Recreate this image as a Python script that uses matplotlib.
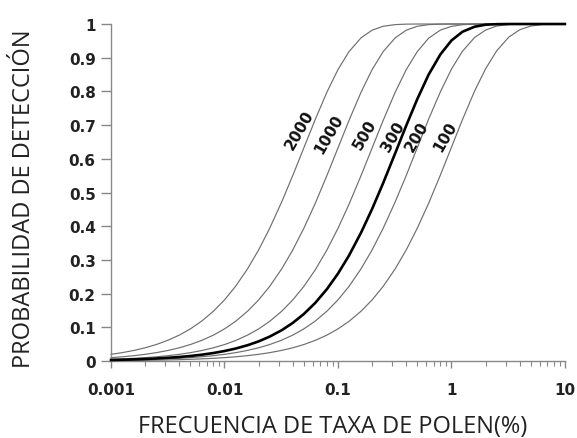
import matplotlib
matplotlib.use("Agg")
import matplotlib.pyplot as plt
from matplotlib.ticker import LogLocator, FixedLocator, NullFormatter

# frecuencia del taxon (%) en la que se leyeron las curvas
frecuencia = [0.001, 0.00125, 0.0016, 0.002, 0.0025, 0.0032, 0.004, 0.005, 0.0063, 0.008,
              0.01, 0.0125, 0.016, 0.02, 0.025, 0.032, 0.04, 0.05, 0.063, 0.08,
              0.1, 0.125, 0.16, 0.2, 0.25, 0.32, 0.4, 0.5, 0.63, 0.8,
              1, 1.25, 1.6, 2, 2.5, 3.2, 4, 5, 6.3, 8, 10]

# probabilidad de deteccion para cada tamano de conteo
p100 = [0.001, 0.00125, 0.0016, 0.002, 0.0025, 0.0032, 0.004, 0.005, 0.0063, 0.008,
        0.010, 0.0124, 0.0159, 0.0198, 0.0247, 0.0315, 0.0392, 0.0488, 0.0611, 0.0769,
        0.0952, 0.1175, 0.1479, 0.1813, 0.2212, 0.2739, 0.3297, 0.394, 0.468, 0.552,
        0.634, 0.716, 0.801, 0.867, 0.920, 0.961, 0.983, 0.994, 0.9985, 0.9998, 1.0]
p200 = [0.002, 0.0025, 0.0032, 0.004, 0.005, 0.0064, 0.008, 0.010, 0.0125, 0.0159,
        0.0198, 0.0247, 0.0315, 0.0392, 0.0488, 0.0620, 0.0769, 0.0952, 0.1184, 0.1479,
        0.1813, 0.2212, 0.2739, 0.3297, 0.3935, 0.4727, 0.5507, 0.633, 0.718, 0.799,
        0.866, 0.919, 0.960, 0.982, 0.994, 0.9985, 0.9997, 1.0, 1.0, 1.0, 1.0]
p300 = [0.003, 0.00375, 0.0048, 0.006, 0.0075, 0.0096, 0.0119, 0.0149, 0.0187, 0.0237,
        0.0296, 0.0368, 0.0469, 0.0582, 0.0723, 0.0915, 0.1131, 0.1393, 0.1722, 0.2134,
        0.2592, 0.3127, 0.3812, 0.4512, 0.5276, 0.6171, 0.6988, 0.777, 0.850, 0.910,
        0.951, 0.977, 0.992, 0.998, 0.9995, 1.0, 1.0, 1.0, 1.0, 1.0, 1.0]
p500 = [0.005, 0.0062, 0.0080, 0.00995, 0.0124, 0.0159, 0.0198, 0.0247, 0.0310, 0.0392,
        0.0488, 0.0606, 0.0769, 0.0952, 0.1175, 0.1479, 0.1813, 0.2212, 0.2702, 0.3297,
        0.3935, 0.4647, 0.5507, 0.6321, 0.7135, 0.7981, 0.8647, 0.918, 0.958, 0.982,
        0.993, 0.998, 0.9997, 1.0, 1.0, 1.0, 1.0, 1.0, 1.0, 1.0, 1.0]
p1000 = [0.00995, 0.0124, 0.0159, 0.0198, 0.0247, 0.0315, 0.0392, 0.0488, 0.0611, 0.0769,
         0.0952, 0.1175, 0.1479, 0.1813, 0.2212, 0.2739, 0.3297, 0.3935, 0.4674, 0.5507,
         0.6321, 0.7135, 0.7981, 0.8647, 0.9179, 0.9592, 0.9817, 0.9933, 0.9982, 0.9997,
         1.0, 1.0, 1.0, 1.0, 1.0, 1.0, 1.0, 1.0, 1.0, 1.0, 1.0]
p2000 = [0.0198, 0.0247, 0.0315, 0.0392, 0.0488, 0.0620, 0.0769, 0.0952, 0.1184, 0.1479,
         0.1813, 0.2212, 0.2739, 0.3297, 0.3935, 0.4727, 0.5507, 0.6321, 0.7163, 0.7981,
         0.8647, 0.9179, 0.9592, 0.9817, 0.9933, 0.9983, 0.9997, 1.0, 1.0, 1.0,
         1.0, 1.0, 1.0, 1.0, 1.0, 1.0, 1.0, 1.0, 1.0, 1.0, 1.0]

conteos = ["100", "200", "300", "500", "1000", "2000"]
curvas = [p100, p200, p300, p500, p1000, p2000]
# posicion de las etiquetas sobre las curvas
etiqueta_x = [0.877, 0.497, 0.306, 0.173, 0.0834, 0.0462]
etiqueta_y = [0.668, 0.668, 0.668, 0.674, 0.674, 0.688]

y_ticks = [0, 0.1, 0.2, 0.3, 0.4, 0.5, 0.6, 0.7, 0.8, 0.9, 1]
y_labels = ["0", "0.1", "0.2", "0.3", "0.4", "0.5", "0.6", "0.7", "0.8", "0.9", "1"]
x_ticks = [0.001, 0.01, 0.1, 1, 10]
x_labels = ["0.001", "0.01", "0.1", "1", "10"]

fig = plt.figure(figsize=(5.77, 4.39), dpi=100)
ax = fig.add_axes([0.1924, 0.1754, 0.7866, 0.7676])

for nombre, valores in zip(conteos, curvas):
    if nombre == "300":
        ax.plot(frecuencia, valores, color="black", linewidth=1.9, clip_on=False, zorder=3)
    else:
        ax.plot(frecuencia, valores, color="#6e6e6e", linewidth=0.85, clip_on=False, zorder=2)

for nombre, ex, ey in zip(conteos, etiqueta_x, etiqueta_y):
    ax.text(ex, ey, nombre, rotation=60, ha="center", va="center",
            fontsize=11, fontweight="bold", color="#111111", zorder=4)

ax.set_xscale("log")
ax.set_xlim(0.001, 10)
ax.set_ylim(0, 1)

ax.xaxis.set_major_locator(FixedLocator(x_ticks))
ax.set_xticklabels(x_labels)
ax.xaxis.set_minor_locator(LogLocator(base=10, subs=range(2, 10)))
ax.xaxis.set_minor_formatter(NullFormatter())
ax.set_yticks(y_ticks)
ax.set_yticklabels(y_labels)

for s in ["top", "right"]:
    ax.spines[s].set_visible(False)
for s in ["left", "bottom"]:
    ax.spines[s].set_color("#888888")
    ax.spines[s].set_linewidth(1.0)

ax.tick_params(axis="y", length=7, width=1, color="#888888", pad=4)
ax.tick_params(axis="x", which="major", length=5, width=1, color="#888888", pad=10)
ax.tick_params(axis="x", which="minor", length=3.5, width=0.8, color="#888888")
for lab in ax.get_xticklabels() + ax.get_yticklabels():
    lab.set_fontsize(11)
    lab.set_fontweight("bold")
    lab.set_color("#222222")

ax.set_xlabel("FRECUENCIA DE TAXA DE POLEN(%)", fontsize=17, family="Open Sans",
              color="#222222", va="center")
ax.set_ylabel("PROBABILIDAD DE DETECCIÓN", fontsize=17, family="Open Sans",
              color="#222222", va="center")
ax.xaxis.set_label_coords(0.489, -0.193)
ax.yaxis.set_label_coords(-0.192, 0.484)

fig.savefig("out.png", dpi=100)
